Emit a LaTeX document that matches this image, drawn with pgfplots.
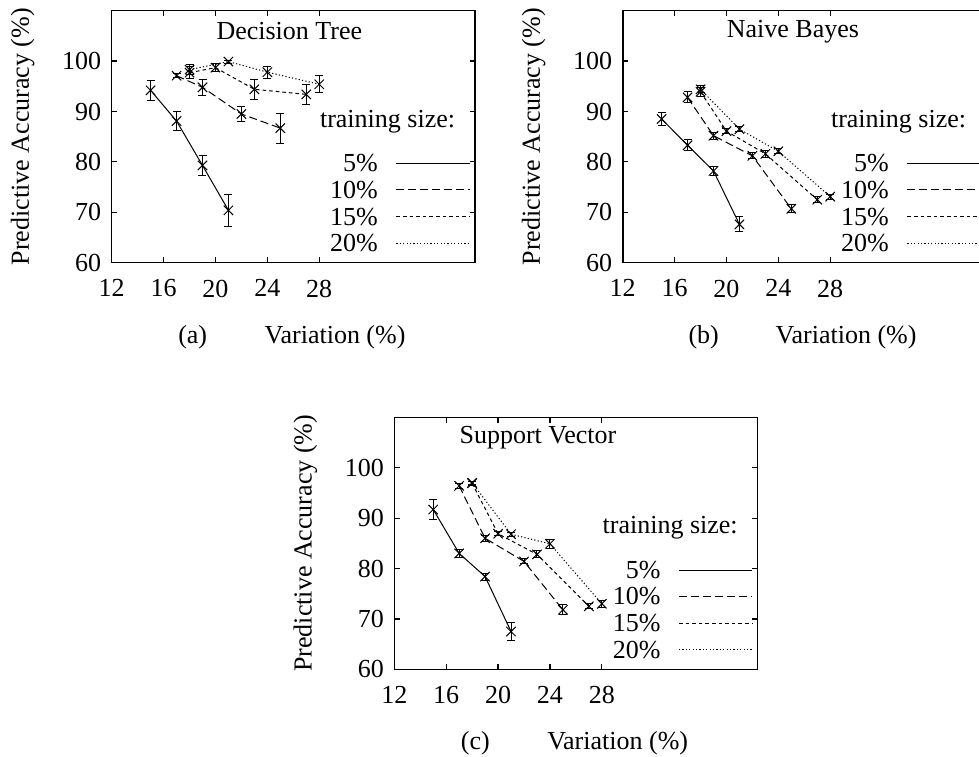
\documentclass[border=0pt]{standalone}
\usepackage{fontspec}
\setmainfont{Liberation Serif}
\usepackage{pgfplots}
\pgfplotsset{compat=1.18}

\newcommand{\fs}{\fontsize{13}{15}\selectfont}

\tikzset{
  s5/.style={solid},
  s10/.style={dash pattern=on 4pt off 2pt},
  s15/.style={dash pattern=on 1.8pt off 1.5pt},
  s20/.style={dash pattern=on 0.6pt off 1.1pt},
}

\pgfplotsset{
  panel/.style={
    scale only axis, width=181.6pt, height=126pt,
    xmin=12, xmax=40, ymin=60, ymax=110,
    xtick={12,16,20,24,28}, ytick={60,70,80,90,100},
    tick align=inside, major tick length=2.6pt,
    axis line style={line width=0.8pt},
    every tick/.style={black, line width=0.6pt},
    tick label style={font=\fs},
    /pgf/number format/assume math mode=true,
    xticklabel shift=5pt, yticklabel shift=1.7pt,
    clip=false,
  },
  ser/.style={black, line width=0.5pt, mark=x, mark size=3.3pt,
    mark options={solid, line width=0.5pt},
    /pgfplots/error bars/y dir=both, /pgfplots/error bars/y explicit,
    /pgfplots/error bars/error bar style={solid, line width=0.5pt},
    /pgfplots/error bars/error mark options={rotate=90, solid, mark size=2pt, line width=0.5pt}},
}

% legend, labels and title inside each panel
\newcommand{\panelextras}[3]{%
  \node[anchor=west, inner sep=0pt, font=\fs] at (axis cs:#2,105.9) {#3};
  \node[anchor=east, inner sep=0pt, font=\fs] at (axis cs:38.5,88) {training size:};
  \node[anchor=east, inner sep=0pt, font=\fs] at (axis cs:32.55,79.7) {5\%};
  \node[anchor=east, inner sep=0pt, font=\fs] at (axis cs:32.55,74.45) {10\%};
  \node[anchor=east, inner sep=0pt, font=\fs] at (axis cs:32.55,69.15) {15\%};
  \node[anchor=east, inner sep=0pt, font=\fs] at (axis cs:32.55,63.85) {20\%};
  \draw[line width=0.5pt, s5] (axis cs:33.95,79.7) -- (axis cs:39.6,79.7);
  \draw[line width=0.5pt, s10] (axis cs:33.95,74.45) -- (axis cs:39.6,74.45);
  \draw[line width=0.5pt, s15] (axis cs:33.95,69.15) -- (axis cs:39.6,69.15);
  \draw[line width=0.5pt, s20] (axis cs:33.95,63.85) -- (axis cs:39.6,63.85);
  \node[rotate=90, font=\fs] at (rel axis cs:-0.245,0.5) {Predictive Accuracy (\%)};
  \node[font=\fs] at (rel axis cs:0.223,-0.294) {(#1)};
  \node[font=\fs] at (rel axis cs:0.615,-0.294) {Variation (\%)};
}

\begin{document}
\begin{tikzpicture}
\path[use as bounding box] (0,0) rectangle (489.5pt,378pt);

% (a) Decision Tree
\begin{axis}[panel, at={(55.85pt,246.65pt)}, anchor=south west]
\addplot[s5, ser] table[y error=e] {
x y e
15 94.2 2.0
17 88.1 1.9
19 79.3 1.9
21 70.4 3.2
};
\addplot[s10, ser] table[y error=e] {
x y e
17 97.1 0.4
19 94.8 1.6
22 89.5 1.5
25 86.7 3.0
};
\addplot[s15, ser] table[y error=e] {
x y e
18 97.7 1.2
20 98.7 0.8
23 94.4 2.0
27 93.4 2.0
};
\addplot[s20, ser] table[y error=e] {
x y e
18 98.3 1.0
21 99.9 0.3
24 97.8 1.2
28 95.4 1.7
};
\panelextras{a}{20.05}{Decision Tree}
\end{axis}

% (b) Naive Bayes
\begin{axis}[panel, at={(311.35pt,246.65pt)}, anchor=south west]
\addplot[s5, ser] table[y error=e] {
x y e
15 88.5 1.3
17 83.3 1.1
19 78.2 0.8
21 67.6 1.5
};
\addplot[s10, ser] table[y error=e] {
x y e
17 92.8 1.1
19 85.2 0.7
22 81.2 0.6
25 70.7 0.8
};
\addplot[s15, ser] table[y error=e] {
x y e
18 93.9 0.9
20 86.1 0.5
23 81.6 0.7
27 72.5 0.6
};
\addplot[s20, ser] table[y error=e] {
x y e
18 94.4 0.7
21 86.5 0.5
24 82.1 0.5
28 73.1 0.5
};
\panelextras{b}{20.0}{Naive Bayes}
\end{axis}

% (c) Support Vector
\begin{axis}[panel, at={(197.15pt,43.35pt)}, anchor=south west]
\addplot[s5, ser] table[y error=e] {
x y e
15 91.7 1.9
17 83.0 0.8
19 78.4 0.7
21 67.5 1.8
};
\addplot[s10, ser] table[y error=e] {
x y e
17 96.4 0.5
19 86.0 0.6
22 81.4 0.5
25 71.8 1.0
};
\addplot[s15, ser] table[y error=e] {
x y e
18 96.9 0.4
20 86.9 0.4
23 82.8 0.7
27 72.5 0.5
};
\addplot[s20, ser] table[y error=e] {
x y e
18 97.0 0.3
21 86.8 0.4
24 84.9 0.9
28 73.0 0.7
};
\panelextras{c}{17.0}{Support Vector}
\end{axis}
\end{tikzpicture}
\end{document}
